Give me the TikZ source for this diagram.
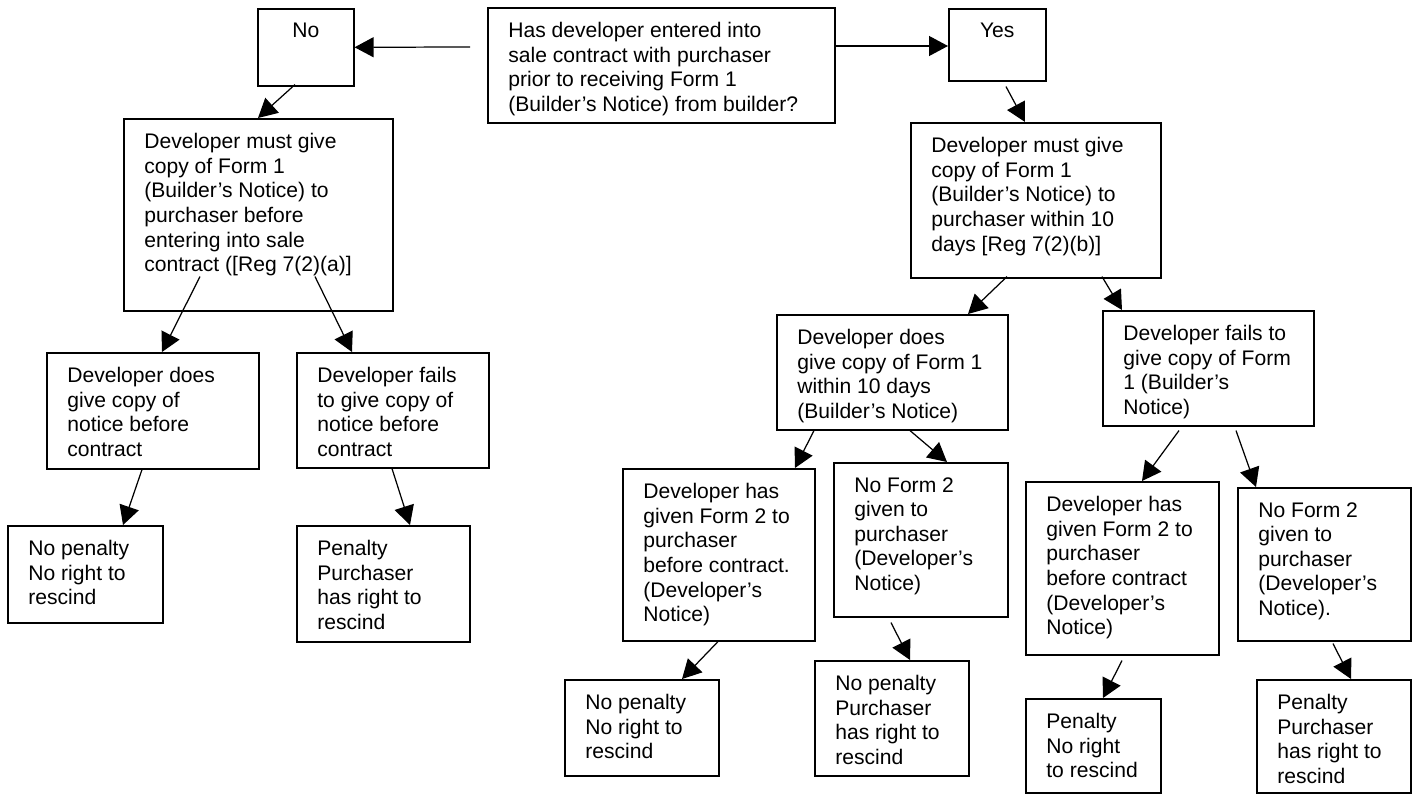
\documentclass[tikz,border=0pt]{standalone}
\usepackage{fontspec}
\setmainfont{Liberation Sans}
\usetikzlibrary{arrows.meta,positioning,calc}
\tikzset{
    flowbox/.style 2 args={rectangle, draw, line width=0.9pt, anchor=north west, inner sep=0pt, minimum width=#1*0.02cm, minimum height=#2*0.02cm},
    boxtext/.style={anchor=north west, align=left, inner sep=0pt, font=\fontsize{12}{14}\selectfont},
    flow/.style={line width=0.7pt, -{Triangle[length=0.38cm,width=0.4cm]}},
}

\begin{document}
\begin{tikzpicture}[x=0.02cm, y=-0.02cm]
    \useasboundingbox (0,0) rectangle (1418,794);

    \node[flowbox={347}{115}] (quest) at (487,7) {};
    \node[boxtext] (questtxt) at ([shift={(21,15)}]quest.north west) {Has developer entered into\\sale contract with purchaser\\prior to receiving Form 1\\(Builder’s Notice) from builder?};
    \node[flowbox={96}{77}] (no) at (257,8) {};
    \node[boxtext, anchor=north] (notxt) at ([yshift=-0.3cm]no.north) {No};
    \node[flowbox={97}{72}] (yes) at (948,8) {};
    \node[boxtext, anchor=north] (yestxt) at ([yshift=-0.3cm]yes.north) {Yes};

    % left branch
    \node[flowbox={269}{192}] (mustL) at (123,118) {};
    \node[boxtext] (mustLtxt) at ([shift={(21,15)}]mustL.north west) {Developer must give\\copy of Form 1\\(Builder’s Notice) to\\purchaser before\\entering into sale\\contract ([Reg 7(2)(a)]};
    \node[flowbox={212}{116}] (doesL) at (46,352) {};
    \node[boxtext] (doesLtxt) at ([shift={(21,15)}]doesL.north west) {Developer does\\give copy of\\notice before\\contract};
    \node[flowbox={192}{115}] (failsL) at (296,352) {};
    \node[boxtext] (failsLtxt) at ([shift={(21,15)}]failsL.north west) {Developer fails\\to give copy of\\notice before\\contract};
    \node[flowbox={155}{97}] (npL) at (7,525) {};
    \node[boxtext] (npLtxt) at ([shift={(21,15)}]npL.north west) {No penalty\\No right to\\rescind};
    \node[flowbox={173}{116}] (penL) at (296,525) {};
    \node[boxtext] (penLtxt) at ([shift={(21,15)}]penL.north west) {Penalty\\Purchaser\\has right to\\rescind};

    % right branch
    \node[flowbox={250}{155}] (mustR) at (910,122) {};
    \node[boxtext] (mustRtxt) at ([shift={(21,15)}]mustR.north west) {Developer must give\\copy of Form 1\\(Builder’s Notice) to\\purchaser within 10\\days [Reg 7(2)(b)]};
    \node[flowbox={231}{115}] (doesR) at (776,314) {};
    \node[boxtext] (doesRtxt) at ([shift={(21,15)}]doesR.north west) {Developer does\\give copy of Form 1\\within 10 days\\(Builder’s Notice)};
    \node[flowbox={211}{115}] (failsR) at (1102,310) {};
    \node[boxtext] (failsRtxt) at ([shift={(21,15)}]failsR.north west) {Developer fails to\\give copy of Form\\1 (Builder’s\\Notice)};
    \node[flowbox={192}{172}] (hasR1) at (622,468) {};
    \node[boxtext] (hasR1txt) at ([shift={(21,15)}]hasR1.north west) {Developer has\\given Form 2 to\\purchaser\\before contract.\\(Developer’s\\Notice)};
    \node[flowbox={174}{154}] (nfR1) at (833,462) {};
    \node[boxtext] (nfR1txt) at ([shift={(21,15)}]nfR1.north west) {No Form 2\\given to\\purchaser\\(Developer’s\\Notice)};
    \node[flowbox={193}{173}] (hasR2) at (1025,481) {};
    \node[boxtext] (hasR2txt) at ([shift={(21,15)}]hasR2.north west) {Developer has\\given Form 2 to\\purchaser\\before contract\\(Developer’s\\Notice)};
    \node[flowbox={173}{153}] (nfR2) at (1237,487) {};
    \node[boxtext] (nfR2txt) at ([shift={(21,15)}]nfR2.north west) {No Form 2\\given to\\purchaser\\(Developer’s\\Notice).};
    \node[flowbox={154}{96}] (npR1) at (564,679) {};
    \node[boxtext] (npR1txt) at ([shift={(21,15)}]npR1.north west) {No penalty\\No right to\\rescind};
    \node[flowbox={154}{115}] (npR2) at (814,660) {};
    \node[boxtext] (npR2txt) at ([shift={(21,15)}]npR2.north west) {No penalty\\Purchaser\\has right to\\rescind};
    \node[flowbox={135}{94}] (penR1) at (1025,698) {};
    \node[boxtext] (penR1txt) at ([shift={(21,15)}]penR1.north west) {Penalty\\No right\\to rescind};
    \node[flowbox={154}{113}] (penR2) at (1256,679) {};
    \node[boxtext] (penR2txt) at ([shift={(21,15)}]penR2.north west) {Penalty\\Purchaser\\has right to\\rescind};

    \draw[flow] ([shift={(-17,40)}]quest.north west) -- (no.east);
    \draw[flow] ([shift={(0,39)}]quest.north east) -- ([shift={(0,38)}]yes.north west);
    \draw[flow] ([shift={(38,-2)}]no.south west) -- ([shift={(135,0)}]mustL.north west);
    \draw[flow] ([shift={(58,5)}]yes.south west) -- ([shift={(115,0)}]mustR.north west);
    \draw[flow] ([shift={(77,-35)}]mustL.south west) -- ([shift={(116,0)}]doesL.north west);
    \draw[flow] ([shift={(192,-35)}]mustL.south west) -- ([shift={(56,0)}]failsL.north west);
    \draw[flow] ([shift={(96,0)}]doesL.south west) -- ([shift={(116,0)}]npL.north west);
    \draw[flow] ([shift={(96,0)}]failsL.south west) -- ([shift={(114,0)}]penL.north west);
    \draw[flow] ([shift={(97,-2)}]mustR.south west) -- ([shift={(192,0)}]doesR.north west);
    \draw[flow] ([shift={(192,-2)}]mustR.south west) -- ([shift={(20,0)}]failsR.north west);
    \draw[flow] ([shift={(38,0)}]doesR.south west) -- ([shift={(173,0)}]hasR1.north west);
    \draw[flow] ([shift={(134,0)}]doesR.south west) -- ([shift={(114,0)}]nfR1.north west);
    \draw[flow] ([shift={(96,0)}]hasR1.south west) -- ([shift={(118,0)}]npR1.north west);
    \draw[flow] ([shift={(58,5)}]nfR1.south west) -- ([shift={(96,0)}]npR2.north west);
    \draw[flow] ([shift={(77,4)}]failsR.south west) -- ([shift={(117,0)}]hasR2.north west);
    \draw[flow] ([shift={(134,4)}]failsR.south west) -- ([shift={(19,0)}]nfR2.north west);
    \draw[flow] ([shift={(97,5)}]hasR2.south west) -- ([shift={(78,0)}]penR1.north west);
    \draw[flow] ([shift={(96,2)}]nfR2.south west) -- ([shift={(95,0)}]penR2.north west);
\end{tikzpicture}
\end{document}
